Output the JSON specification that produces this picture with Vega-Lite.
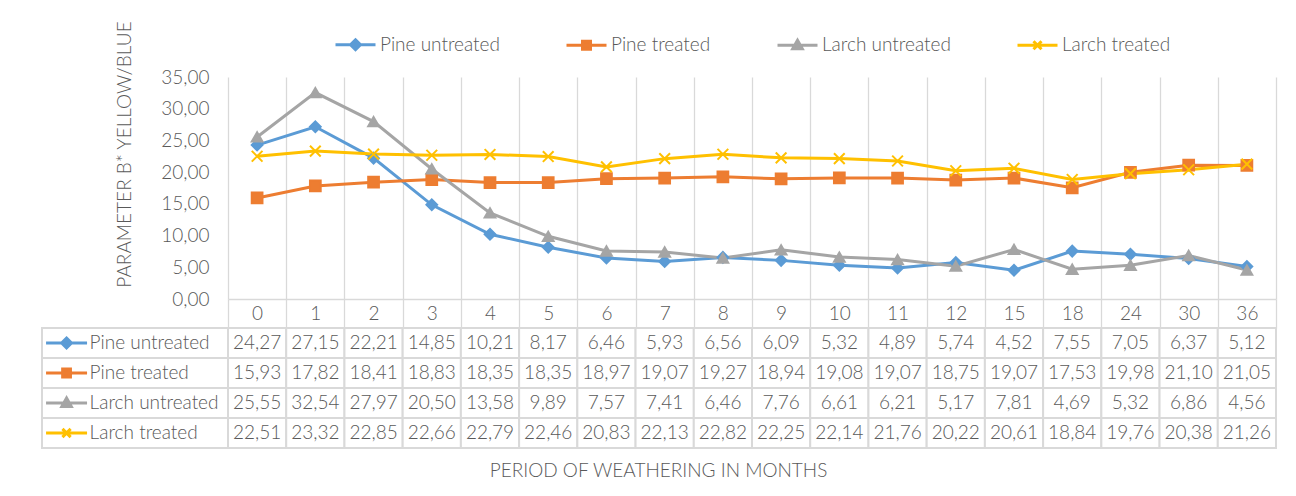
{
  "$schema": "https://vega.github.io/schema/vega-lite/v6.json",
  "background": "white",
  "padding": {"left": 40, "top": 20, "right": 10, "bottom": 10},
  "autosize": {"type": "pad"},
  "config": {
    "locale": {"number": {"decimal": ",", "thousands": ".", "grouping": [3], "currency": ["", " €"]}},
    "font": "Lato",
    "view": {"stroke": null},
    "axis": {"labelFont": "Lato", "titleFont": "Lato", "labelColor": "#595959", "titleColor": "#595959", "labelFontSize": 19, "titleFontSize": 19, "titleFontWeight": 300, "labelFontWeight": 300},
    "legend": {"labelFont": "Lato", "labelFontSize": 19, "labelColor": "#595959", "labelFontWeight": 300}
  },
  "datasets": {
    "b": [
      {"month": 0, "series": "Pine untreated", "value": 24.27},
      {"month": 1, "series": "Pine untreated", "value": 27.15},
      {"month": 2, "series": "Pine untreated", "value": 22.21},
      {"month": 3, "series": "Pine untreated", "value": 14.85},
      {"month": 4, "series": "Pine untreated", "value": 10.21},
      {"month": 5, "series": "Pine untreated", "value": 8.17},
      {"month": 6, "series": "Pine untreated", "value": 6.46},
      {"month": 7, "series": "Pine untreated", "value": 5.93},
      {"month": 8, "series": "Pine untreated", "value": 6.56},
      {"month": 9, "series": "Pine untreated", "value": 6.09},
      {"month": 10, "series": "Pine untreated", "value": 5.32},
      {"month": 11, "series": "Pine untreated", "value": 4.89},
      {"month": 12, "series": "Pine untreated", "value": 5.74},
      {"month": 15, "series": "Pine untreated", "value": 4.52},
      {"month": 18, "series": "Pine untreated", "value": 7.55},
      {"month": 24, "series": "Pine untreated", "value": 7.05},
      {"month": 30, "series": "Pine untreated", "value": 6.37},
      {"month": 36, "series": "Pine untreated", "value": 5.12},
      {"month": 0, "series": "Pine treated", "value": 15.93},
      {"month": 1, "series": "Pine treated", "value": 17.82},
      {"month": 2, "series": "Pine treated", "value": 18.41},
      {"month": 3, "series": "Pine treated", "value": 18.83},
      {"month": 4, "series": "Pine treated", "value": 18.35},
      {"month": 5, "series": "Pine treated", "value": 18.35},
      {"month": 6, "series": "Pine treated", "value": 18.97},
      {"month": 7, "series": "Pine treated", "value": 19.07},
      {"month": 8, "series": "Pine treated", "value": 19.27},
      {"month": 9, "series": "Pine treated", "value": 18.94},
      {"month": 10, "series": "Pine treated", "value": 19.08},
      {"month": 11, "series": "Pine treated", "value": 19.07},
      {"month": 12, "series": "Pine treated", "value": 18.75},
      {"month": 15, "series": "Pine treated", "value": 19.07},
      {"month": 18, "series": "Pine treated", "value": 17.53},
      {"month": 24, "series": "Pine treated", "value": 19.98},
      {"month": 30, "series": "Pine treated", "value": 21.10},
      {"month": 36, "series": "Pine treated", "value": 21.05},
      {"month": 0, "series": "Larch untreated", "value": 25.55},
      {"month": 1, "series": "Larch untreated", "value": 32.54},
      {"month": 2, "series": "Larch untreated", "value": 27.97},
      {"month": 3, "series": "Larch untreated", "value": 20.50},
      {"month": 4, "series": "Larch untreated", "value": 13.58},
      {"month": 5, "series": "Larch untreated", "value": 9.89},
      {"month": 6, "series": "Larch untreated", "value": 7.57},
      {"month": 7, "series": "Larch untreated", "value": 7.41},
      {"month": 8, "series": "Larch untreated", "value": 6.46},
      {"month": 9, "series": "Larch untreated", "value": 7.76},
      {"month": 10, "series": "Larch untreated", "value": 6.61},
      {"month": 11, "series": "Larch untreated", "value": 6.21},
      {"month": 12, "series": "Larch untreated", "value": 5.17},
      {"month": 15, "series": "Larch untreated", "value": 7.81},
      {"month": 18, "series": "Larch untreated", "value": 4.69},
      {"month": 24, "series": "Larch untreated", "value": 5.32},
      {"month": 30, "series": "Larch untreated", "value": 6.86},
      {"month": 36, "series": "Larch untreated", "value": 4.56},
      {"month": 0, "series": "Larch treated", "value": 22.51},
      {"month": 1, "series": "Larch treated", "value": 23.32},
      {"month": 2, "series": "Larch treated", "value": 22.85},
      {"month": 3, "series": "Larch treated", "value": 22.66},
      {"month": 4, "series": "Larch treated", "value": 22.79},
      {"month": 5, "series": "Larch treated", "value": 22.46},
      {"month": 6, "series": "Larch treated", "value": 20.83},
      {"month": 7, "series": "Larch treated", "value": 22.13},
      {"month": 8, "series": "Larch treated", "value": 22.82},
      {"month": 9, "series": "Larch treated", "value": 22.25},
      {"month": 10, "series": "Larch treated", "value": 22.14},
      {"month": 11, "series": "Larch treated", "value": 21.76},
      {"month": 12, "series": "Larch treated", "value": 20.22},
      {"month": 15, "series": "Larch treated", "value": 20.61},
      {"month": 18, "series": "Larch treated", "value": 18.84},
      {"month": 24, "series": "Larch treated", "value": 19.76},
      {"month": 30, "series": "Larch treated", "value": 20.38},
      {"month": 36, "series": "Larch treated", "value": 21.26}
    ]
  },
  "title": {"text": "PERIOD OF WEATHERING IN MONTHS", "orient": "bottom", "anchor": "middle", "font": "Lato", "fontSize": 19, "fontWeight": 300, "color": "#595959", "offset": 13},
  "columns": 2,
  "spacing": {"row": 29, "column": 0},
  "bounds": "flush",
  "resolve": {"scale": {"color": "independent", "fill": "independent", "stroke": "independent", "shape": "independent"}},
  "concat": [
    {
      "width": 186, "height": 222,
      "data": {"values": [{}]},
      "mark": {"type": "text"},
      "encoding": {"text": {"value": ""}}
    },
    {
      "width": 1048, "height": 222,
      "data": {"name": "b"},
      "encoding": {
        "x": {"field": "month", "type": "ordinal", "title": null,
          "scale": {"paddingInner": 0, "paddingOuter": 0},
          "axis": {"grid": true, "tickBand": "extent", "gridColor": "#d9d9d9", "gridWidth": 1.3,
            "ticks": true, "tickSize": 29, "tickColor": "#d9d9d9", "tickWidth": 1.3,
            "domain": true, "domainColor": "#d9d9d9", "domainWidth": 1.3,
            "labelPadding": -24, "labelAngle": 0}},
        "y": {"field": "value", "type": "quantitative", "title": "PARAMETER B* YELLOW/BLUE",
          "scale": {"domain": [0, 35], "nice": false, "zero": true},
          "axis": {"values": [0, 5, 10, 15, 20, 25, 30, 35], "format": ".2f", "domain": false, "ticks": false, "grid": false,
            "labelPadding": 19, "labelFlush": false, "labelOverlap": false, "titlePadding": 26, "titleY": 77}}
      },
      "layer": [
        {
          "mark": {"type": "line", "strokeWidth": 3},
          "encoding": {
            "color": {"field": "series", "type": "nominal", "legend": null,
              "scale": {"domain": ["Pine untreated", "Pine treated", "Larch untreated", "Larch treated"], "range": ["#5B9BD5", "#ED7D31", "#A5A5A5", "#FFC000"]}}
          }
        },
        {
          "mark": {"type": "point", "filled": true, "opacity": 1, "size": 115, "strokeWidth": 2},
          "encoding": {
            "fill": {"field": "series", "type": "nominal", "legend": null,
              "scale": {"domain": ["Pine untreated", "Pine treated", "Larch untreated", "Larch treated"], "range": ["#5B9BD5", "#ED7D31", "#A5A5A5", "#FFC000"]}},
            "stroke": {"field": "series", "type": "nominal", "legend": null,
              "scale": {"domain": ["Pine untreated", "Pine treated", "Larch untreated", "Larch treated"], "range": ["#5B9BD5", "#ED7D31", "#A5A5A5", "#FFC000"]}},
            "shape": {"field": "series", "type": "nominal", "legend": null,
              "scale": {"domain": ["Pine untreated", "Pine treated", "Larch untreated", "Larch treated"], "range": ["diamond", "square", "triangle-up", "M-1,-1L1,1M-1,1L1,-1"]}}
          }
        },
        {
          "mark": {"type": "point", "filled": true, "opacity": 0},
          "encoding": {
            "fill": {"field": "series", "type": "nominal",
              "scale": {"domain": ["Pine untreated", "Pine treated", "Larch untreated", "Larch treated"], "range": ["#5B9BD5", "#ED7D31", "#A5A5A5", "#FFC000"]},
              "legend": {"title": null, "orient": "none", "direction": "horizontal", "legendX": 106, "legendY": -54, "padding": 0,
                "symbolSize": 1600, "symbolStrokeWidth": 3, "symbolOpacity": 1, "labelOffset": 3, "columnPadding": 60}},
            "stroke": {"field": "series", "type": "nominal",
              "scale": {"domain": ["Pine untreated", "Pine treated", "Larch untreated", "Larch treated"], "range": ["#5B9BD5", "#ED7D31", "#A5A5A5", "#FFC000"]},
              "legend": {"title": null, "orient": "none", "direction": "horizontal", "legendX": 106, "legendY": -54, "padding": 0,
                "symbolSize": 1600, "symbolStrokeWidth": 3, "symbolOpacity": 1, "labelOffset": 3, "columnPadding": 60}},
            "shape": {"field": "series", "type": "nominal",
              "scale": {"domain": ["Pine untreated", "Pine treated", "Larch untreated", "Larch treated"],
                "range": ["M-1,0L1,0M0,-0.25L0.25,0L0,0.25L-0.25,0Z", "M-1,0L1,0M-0.2,-0.2L0.2,-0.2L0.2,0.2L-0.2,0.2Z", "M-1,0L1,0M0,-0.25L0.24,0.18L-0.24,0.18Z", "M-1,0L1,0M-0.2,-0.2L0.2,0.2M-0.2,0.2L0.2,-0.2"]},
              "legend": {"title": null, "orient": "none", "direction": "horizontal", "legendX": 106, "legendY": -54, "padding": 0,
                "symbolSize": 1600, "symbolStrokeWidth": 3, "symbolOpacity": 1, "labelOffset": 3, "columnPadding": 60}}
          }
        }
      ],
      "resolve": {"scale": {"color": "independent", "fill": "independent", "stroke": "independent", "shape": "independent"}}
    },
    {
      "width": 186, "height": 120,
      "data": {"name": "b"},
      "transform": [{"filter": "datum.month == 0"}],
      "encoding": {
        "y": {"field": "series", "type": "nominal", "sort": ["Pine untreated", "Pine treated", "Larch untreated", "Larch treated"],
          "scale": {"paddingInner": 0, "paddingOuter": 0}, "axis": null}
      },
      "layer": [
        {"mark": {"type": "rect", "fill": "white", "stroke": "#d9d9d9", "strokeWidth": 2}},
        {
          "mark": {"type": "point", "filled": true, "size": 1681, "strokeWidth": 3, "opacity": 1},
          "encoding": {
            "x": {"datum": 0.132, "type": "quantitative", "scale": {"domain": [0, 1]}, "axis": null},
            "fill": {"field": "series", "type": "nominal", "legend": null,
              "scale": {"domain": ["Pine untreated", "Pine treated", "Larch untreated", "Larch treated"], "range": ["#5B9BD5", "#ED7D31", "#A5A5A5", "#FFC000"]}},
            "stroke": {"field": "series", "type": "nominal", "legend": null,
              "scale": {"domain": ["Pine untreated", "Pine treated", "Larch untreated", "Larch treated"], "range": ["#5B9BD5", "#ED7D31", "#A5A5A5", "#FFC000"]}},
            "shape": {"field": "series", "type": "nominal", "legend": null,
              "scale": {"domain": ["Pine untreated", "Pine treated", "Larch untreated", "Larch treated"],
                "range": ["M-1,0L1,0M0,-0.24L0.24,0L0,0.24L-0.24,0Z", "M-1,0L1,0M-0.19,-0.19L0.19,-0.19L0.19,0.19L-0.19,0.19Z", "M-1,0L1,0M0,-0.24L0.23,0.17L-0.23,0.17Z", "M-1,0L1,0M-0.2,-0.2L0.2,0.2M-0.2,0.2L0.2,-0.2"]}}
          }
        },
        {
          "mark": {"type": "text", "align": "left", "baseline": "middle", "fontSize": 19, "fontWeight": 300, "color": "#595959", "font": "Lato"},
          "encoding": {
            "x": {"datum": 0.256, "type": "quantitative", "scale": {"domain": [0, 1]}, "axis": null},
            "text": {"field": "series"}
          }
        }
      ]
    },
    {
      "width": 1048, "height": 120,
      "data": {"name": "b"},
      "encoding": {
        "x": {"field": "month", "type": "ordinal", "scale": {"paddingInner": 0, "paddingOuter": 0}, "axis": null},
        "y": {"field": "series", "type": "nominal", "sort": ["Pine untreated", "Pine treated", "Larch untreated", "Larch treated"],
          "scale": {"paddingInner": 0, "paddingOuter": 0}, "axis": null}
      },
      "layer": [
        {"mark": {"type": "rect", "fill": "white", "stroke": "#d9d9d9", "strokeWidth": 2}},
        {"mark": {"type": "text", "fontSize": 19, "fontWeight": 300, "color": "#595959", "font": "Lato", "baseline": "middle"},
          "encoding": {"text": {"field": "value", "type": "quantitative", "format": ".2f"}}}
      ]
    }
  ]
}
